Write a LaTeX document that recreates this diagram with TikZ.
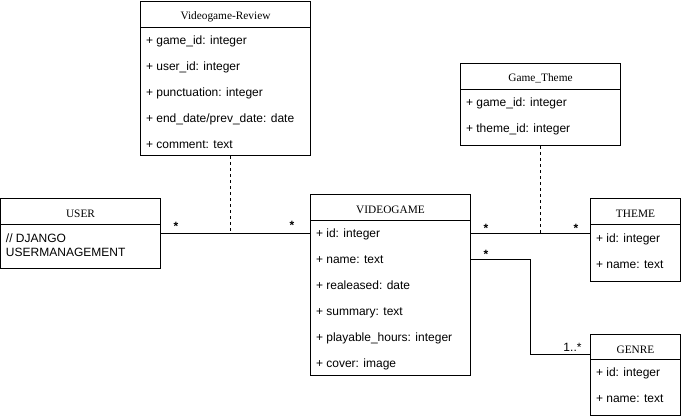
\documentclass[tikz,border=0pt]{standalone}
\usepackage{fontspec}
\setmainfont{Liberation Sans}
\newfontfamily\titlefont{Liberation Serif}
\usetikzlibrary{fit,calc}

\begin{document}
\begin{tikzpicture}[x=0.75pt, y=-0.75pt, line width=0.75pt,
  classbox/.style={draw, rectangle, inner sep=0pt},
  classtitle/.style={font=\titlefont\fontsize{8.5pt}{10pt}\selectfont, anchor=base, inner sep=0pt},
  attr/.style={font=\fontsize{9pt}{10.5pt}\selectfont, anchor=base west, inner sep=0pt},
  mult/.style={font=\bfseries\fontsize{9pt}{10pt}\selectfont, anchor=base, inner sep=0pt},
  multtext/.style={font=\fontsize{9pt}{10pt}\selectfont, anchor=base east, inner sep=0pt},
  assoc/.style={draw},
  link/.style={draw, dash pattern=on 2.25pt off 2.25pt}]

\useasboundingbox (0,0) rectangle (681,417);

% ---- class boxes ----
\node[classbox, fit={(140.5,1.5) (310.5,155.5)}] (review) {};
\node[classbox, fit={(460.5,63.5) (620.5,145.5)}] (gt) {};
\node[classbox, fit={(0.5,198.5) (160.5,268.5)}] (user) {};
\node[classbox, fit={(310.5,194.5) (470.5,375.5)}] (vg) {};
\node[classbox, fit={(590.5,198.5) (680.5,281.5)}] (theme) {};
\node[classbox, fit={(590.5,334.5) (680.5,415.5)}] (genre) {};

% header separators
\draw (review.west |- 0,27.5) -- (review.east |- 0,27.5);
\draw (gt.west |- 0,89.5) -- (gt.east |- 0,89.5);
\draw (user.west |- 0,224.5) -- (user.east |- 0,224.5);
\draw (vg.west |- 0,220.5) -- (vg.east |- 0,220.5);
\draw (theme.west |- 0,224.5) -- (theme.east |- 0,224.5);
\draw (genre.west |- 0,359.5) -- (genre.east |- 0,359.5);

% class names
\node[classtitle] (review-t) at ($(review.north)+(0,19)$) {Videogame-Review};
\node[classtitle] (gt-t) at ($(gt.north)+(0,19)$) {Game\_Theme};
\node[classtitle] (user-t) at ($(user.north)+(0,19)$) {USER};
\node[classtitle] (vg-t) at ($(vg.north)+(0,19)$) {VIDEOGAME};
\node[classtitle] (theme-t) at ($(theme.north)+(0,19)$) {THEME};
\node[classtitle] (genre-t) at ($(genre.north)+(0,19)$) {GENRE};

% attributes
\node[attr] (review-a1) at (145.5,44.5) {+ game\_id: integer};
\node[attr] (review-a2) at (145.5,70.5) {+ user\_id: integer};
\node[attr] (review-a3) at (145.5,96.5) {+ punctuation: integer};
\node[attr] (review-a4) at (145.5,122.5) {+ end\_date/prev\_date: date};
\node[attr] (review-a5) at (145.5,148.5) {+ comment: text};

\node[attr] (gt-a1) at (465.5,106.5) {+ game\_id: integer};
\node[attr] (gt-a2) at (465.5,132.5) {+ theme\_id: integer};

\node[attr, anchor=north west, align=left] (user-a1) at (5.5,233) {// DJANGO\\USERMANAGEMENT};

\node[attr] (vg-a1) at (315.5,237.5) {+ id: integer};
\node[attr] (vg-a2) at (315.5,263.5) {+ name: text};
\node[attr] (vg-a3) at (315.5,289.5) {+ realeased: date};
\node[attr] (vg-a4) at (315.5,315.5) {+ summary: text};
\node[attr] (vg-a5) at (315.5,341.5) {+ playable\_hours: integer};
\node[attr] (vg-a6) at (315.5,367.5) {+ cover: image};

\node[attr] (theme-a1) at (595.5,242.5) {+ id: integer};
\node[attr] (theme-a2) at (595.5,268.5) {+ name: text};

\node[attr] (genre-a1) at (595.5,376.5) {+ id: integer};
\node[attr] (genre-a2) at (595.5,402.5) {+ name: text};

% ---- associations ----
\coordinate (j1) at (230.5,233.5);
\coordinate (j2) at (gt.south |- user.east);
\coordinate (bend) at (530.5,259.5);
\coordinate (genre-in) at (590.5,354.5);

\draw[assoc] (user.east) -- (user.east -| vg.west);
\draw[assoc] (vg.east |- user.east) -- (theme.west |- user.east);
\draw[assoc] (vg.east |- bend) -- (bend) |- (genre-in);

% association classes
\draw[link] (review.south -| j1) -- (j1);
\draw[link] (gt.south) -- (j2);

% multiplicities
\node[mult] (m1) at (176,230.5) {*};
\node[mult] (m2) at (292,229.5) {*};
\node[mult] (m3) at (486,232) {*};
\node[mult] (m4) at (576,232) {*};
\node[mult] (m5) at (486,258.5) {*};
\node[multtext] (m6) at (582,351) {1..*};

\end{tikzpicture}
\end{document}
